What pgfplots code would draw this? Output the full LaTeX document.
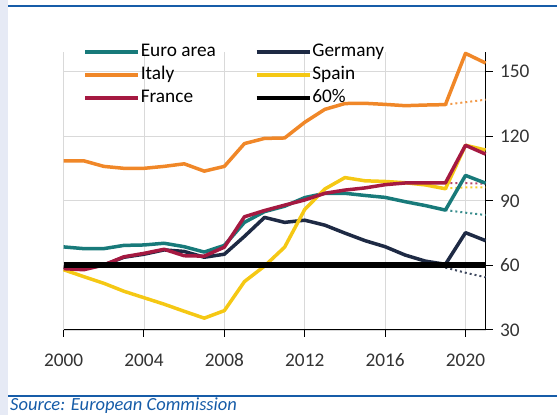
\documentclass[border=0pt]{standalone}
\usepackage{pgfplots}
\pgfplotsset{compat=1.18}
\usepackage{fontspec}
\setmainfont{Carlito}
\definecolor{eacol}{RGB}{24,122,122}
\definecolor{decol}{RGB}{30,42,68}
\definecolor{itcol}{RGB}{240,135,40}
\definecolor{escol}{RGB}{245,200,20}
\definecolor{frcol}{RGB}{165,25,65}
\definecolor{bline}{RGB}{22,92,168}
\definecolor{strip}{RGB}{230,234,245}
\newcommand{\chartfont}{\fontsize{19.3}{22}\selectfont}
\begin{document}
\begin{tikzpicture}
\useasboundingbox (0pt,0pt) rectangle (557pt,415pt);
\fill[strip] (0pt,0pt) rectangle (7.5pt,415pt);
\draw[bline, line width=2.5pt] (8pt,409.2pt) -- (557pt,409.2pt);
\draw[bline, line width=2.2pt] (8pt,18.8pt) -- (557pt,18.8pt);
\node[anchor=base west, inner sep=0pt, text=bline, font=\fontsize{18.5}{21}\selectfont\itshape] at (10pt,4.3pt) {Source: European Commission};
\begin{axis}[
  at={(63.6pt,85pt)}, anchor=south west,
  scale only axis, width=422pt, height=277.7pt,
  xmin=2000, xmax=2021, ymin=30, ymax=159,
  axis x line*=bottom, axis y line*=right,
  axis line style={-, black, line width=1pt},
  xtick={2000,2004,...,2020}, ytick={30,60,...,150},
  tick align=outside, major tick length=7pt,
  tick style={black, line width=1pt},
  grid=major, grid style={gray!30, line width=0.8pt},
  ticklabel style={font=\chartfont, text=black!80},
  xticklabel style={yshift=-13pt},
  yticklabel style={xshift=4pt},
  /pgf/number format/assume math mode=true,
  /pgf/number format/1000 sep={},
  clip=false,
  legend columns=2,
  legend cell align=left,
  legend style={draw=none, fill=none, at={(axis description cs:0.045,1.035)}, anchor=north west,
    inner sep=0pt, font=\chartfont, nodes={inner sep=0.5pt, text height=13pt, text depth=4pt},
    row sep=5pt, /tikz/every even column/.append style={column sep=38pt}},
  legend image code/.code={\draw[#1, line width=4.5pt, solid] (0pt,0pt) -- (53pt,0pt);},
  every axis plot/.append style={line join=round},
]
% pre-crisis forecasts (dotted)
\addplot[forget plot, itcol!85, line width=2pt, dash pattern=on 2pt off 3pt] coordinates {(2019,134.7) (2020,135.8) (2021,137)};
\addplot[forget plot, eacol!85, line width=2pt, dash pattern=on 2pt off 3pt] coordinates {(2019,85.7) (2020,84.5) (2021,83.4)};
\addplot[forget plot, decol!85, line width=2pt, dash pattern=on 2pt off 3pt] coordinates {(2019,59) (2020,56.6) (2021,54.5)};
\addplot[forget plot, frcol!80, line width=2pt, dash pattern=on 2pt off 3pt] coordinates {(2019,98.3) (2020,98.2) (2021,98)};
\addplot[forget plot, escol!90, line width=2pt, dash pattern=on 2pt off 3pt] coordinates {(2019,95.8) (2020,96.2) (2021,96.2)};
% Euro area
\addplot[eacol, line width=3.5pt] coordinates {
(2000,68.6) (2001,67.8) (2002,67.8) (2003,69.3) (2004,69.5) (2005,70.3) (2006,68.7) (2007,66.2)
(2008,69.3) (2009,80) (2010,85) (2011,87.5) (2012,91.5) (2013,93.5) (2014,93.5) (2015,92.5)
(2016,91.6) (2017,89.6) (2018,87.8) (2019,85.7) (2020,101.8) (2021,98.2)};
\addlegendentry{Euro area}
% Germany
\addplot[decol, line width=3.5pt] coordinates {
(2000,59.2) (2001,58.5) (2002,60.2) (2003,63.8) (2004,65.2) (2005,67.2) (2006,66.5) (2007,63.8)
(2008,65.2) (2009,73.5) (2010,82.3) (2011,80) (2012,81) (2013,78.7) (2014,75) (2015,71.5)
(2016,68.7) (2017,64.8) (2018,62) (2019,60.5) (2020,75.2) (2021,71.5)};
\addlegendentry{Germany}
% Italy
\addplot[itcol, line width=3.5pt] coordinates {
(2000,108.6) (2001,108.6) (2002,106) (2003,105.1) (2004,105.1) (2005,106) (2006,107.2) (2007,103.8)
(2008,106) (2009,116.6) (2010,119) (2011,119.2) (2012,126.5) (2013,132.5) (2014,135.2) (2015,135.3)
(2016,134.8) (2017,134.2) (2018,134.5) (2019,134.7) (2020,158.5) (2021,154)};
\addlegendentry{Italy}
% Spain
\addplot[escol, line width=3.5pt] coordinates {
(2000,58) (2001,54.8) (2002,51.7) (2003,48) (2004,45) (2005,42) (2006,38.7) (2007,35.5)
(2008,39) (2009,52.5) (2010,59.7) (2011,68.5) (2012,86) (2013,95.5) (2014,100.8) (2015,99.3)
(2016,99) (2017,98.4) (2018,97.4) (2019,95.6) (2020,115.8) (2021,113.6)};
\addlegendentry{Spain}
% France
\addplot[frcol, line width=3.5pt] coordinates {
(2000,58.5) (2001,58) (2002,60.2) (2003,64) (2004,65.6) (2005,67.5) (2006,64.5) (2007,64.3)
(2008,68.5) (2009,82.6) (2010,85.5) (2011,88) (2012,90.4) (2013,93.5) (2014,95) (2015,96)
(2016,97.5) (2017,98.3) (2018,98.3) (2019,98.3) (2020,115.8) (2021,111.7)};
\addlegendentry{France}
% 60% threshold
\addplot[black, line width=6pt] coordinates {(2000,60) (2021,60)};
\addlegendentry{60\%}
\end{axis}
\end{tikzpicture}
\end{document}
